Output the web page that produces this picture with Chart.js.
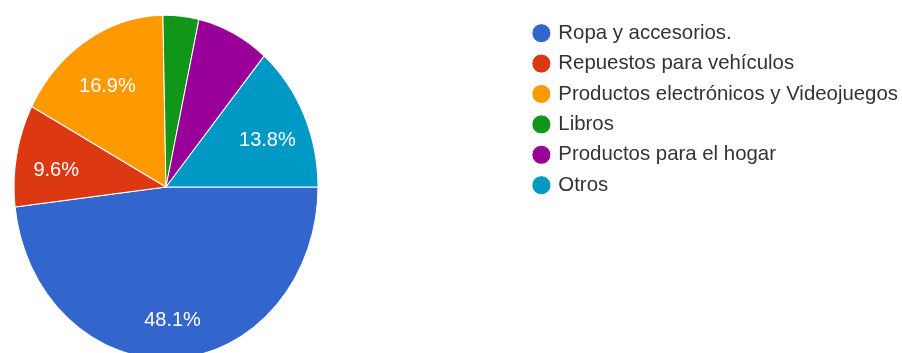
<!DOCTYPE html>
<html>
<head>
<meta charset="utf-8">
<title>Compras en línea</title>
<script src="https://cdn.jsdelivr.net/npm/chart.js@4.4.1/dist/chart.umd.min.js"></script>
<style>
  html, body { margin: 0; padding: 0; background: #fff; overflow: hidden; }
  #wrap { width: 902px; height: 353px; }
</style>
</head>
<body>
<div id="wrap"><canvas id="pieChart" width="902" height="353"></canvas></div>
<script>
(function() {
    'use strict';

    const categories = [
        'Ropa y accesorios.',
        'Repuestos para vehículos',
        'Productos electrónicos y Videojuegos',
        'Libros',
        'Productos para el hogar',
        'Otros'
    ];
    const percentages = [48.1, 9.6, 16.9, 3.8, 7.7, 13.8];
    const sliceColors = ['#3366cc', '#dc3912', '#ff9900', '#109618', '#990099', '#0099c6'];

    const FONT = '"Liberation Sans", Arial, sans-serif';
    const PIE_CENTER = { x: 166, y: 187 };
    const PIE_STRETCH_Y = 1.13;
    const LABEL_RADIUS = 0.735;
    const LABEL_DROP = 7;
    const LABEL_MIN = 9;

    // the pie is drawn a little taller than wide, then the slice percentages on top
    const ovalPie = {
        id: 'ovalPie',
        beforeDatasetsDraw(chart) {
            const arc = chart.getDatasetMeta(0).data[0];
            const ctx = chart.ctx;
            ctx.save();
            ctx.translate(PIE_CENTER.x, PIE_CENTER.y);
            ctx.scale(1, PIE_STRETCH_Y);
            ctx.translate(-arc.x, -arc.y);
        },
        afterDatasetsDraw(chart) {
            const ctx = chart.ctx;
            ctx.restore();

            ctx.save();
            ctx.font = '20px ' + FONT;
            ctx.fillStyle = '#ffffff';
            ctx.textAlign = 'center';
            ctx.textBaseline = 'middle';
            chart.getDatasetMeta(0).data.forEach((arc, i) => {
                const value = percentages[i];
                if (value < LABEL_MIN) {
                    return;
                }
                const mid = (arc.startAngle + arc.endAngle) / 2;
                const r = arc.outerRadius * LABEL_RADIUS;
                const x = PIE_CENTER.x + Math.cos(mid) * r;
                const y = PIE_CENTER.y + Math.sin(mid) * r * PIE_STRETCH_Y + LABEL_DROP;
                ctx.fillText(value.toFixed(1) + '%', x, y);
            });
            ctx.restore();
        }
    };

    new Chart(document.getElementById('pieChart'), {
        type: 'pie',
        data: {
            labels: categories,
            datasets: [{
                data: percentages,
                backgroundColor: sliceColors,
                borderColor: '#ffffff',
                borderWidth: 1,
                radius: 152
            }]
        },
        options: {
            responsive: false,
            animation: false,
            devicePixelRatio: 1,
            rotation: 90,
            layout: { padding: { top: 13, right: -6 } },
            plugins: {
                tooltip: { enabled: false },
                legend: {
                    position: 'right',
                    align: 'start',
                    labels: {
                        usePointStyle: true,
                        pointStyle: 'circle',
                        boxWidth: 13.5,
                        boxHeight: 13.5,
                        padding: 10,
                        color: '#333333',
                        font: { family: FONT, size: 20.4 }
                    }
                }
            }
        },
        plugins: [ovalPie]
    });
})();
</script>
</body>
</html>
